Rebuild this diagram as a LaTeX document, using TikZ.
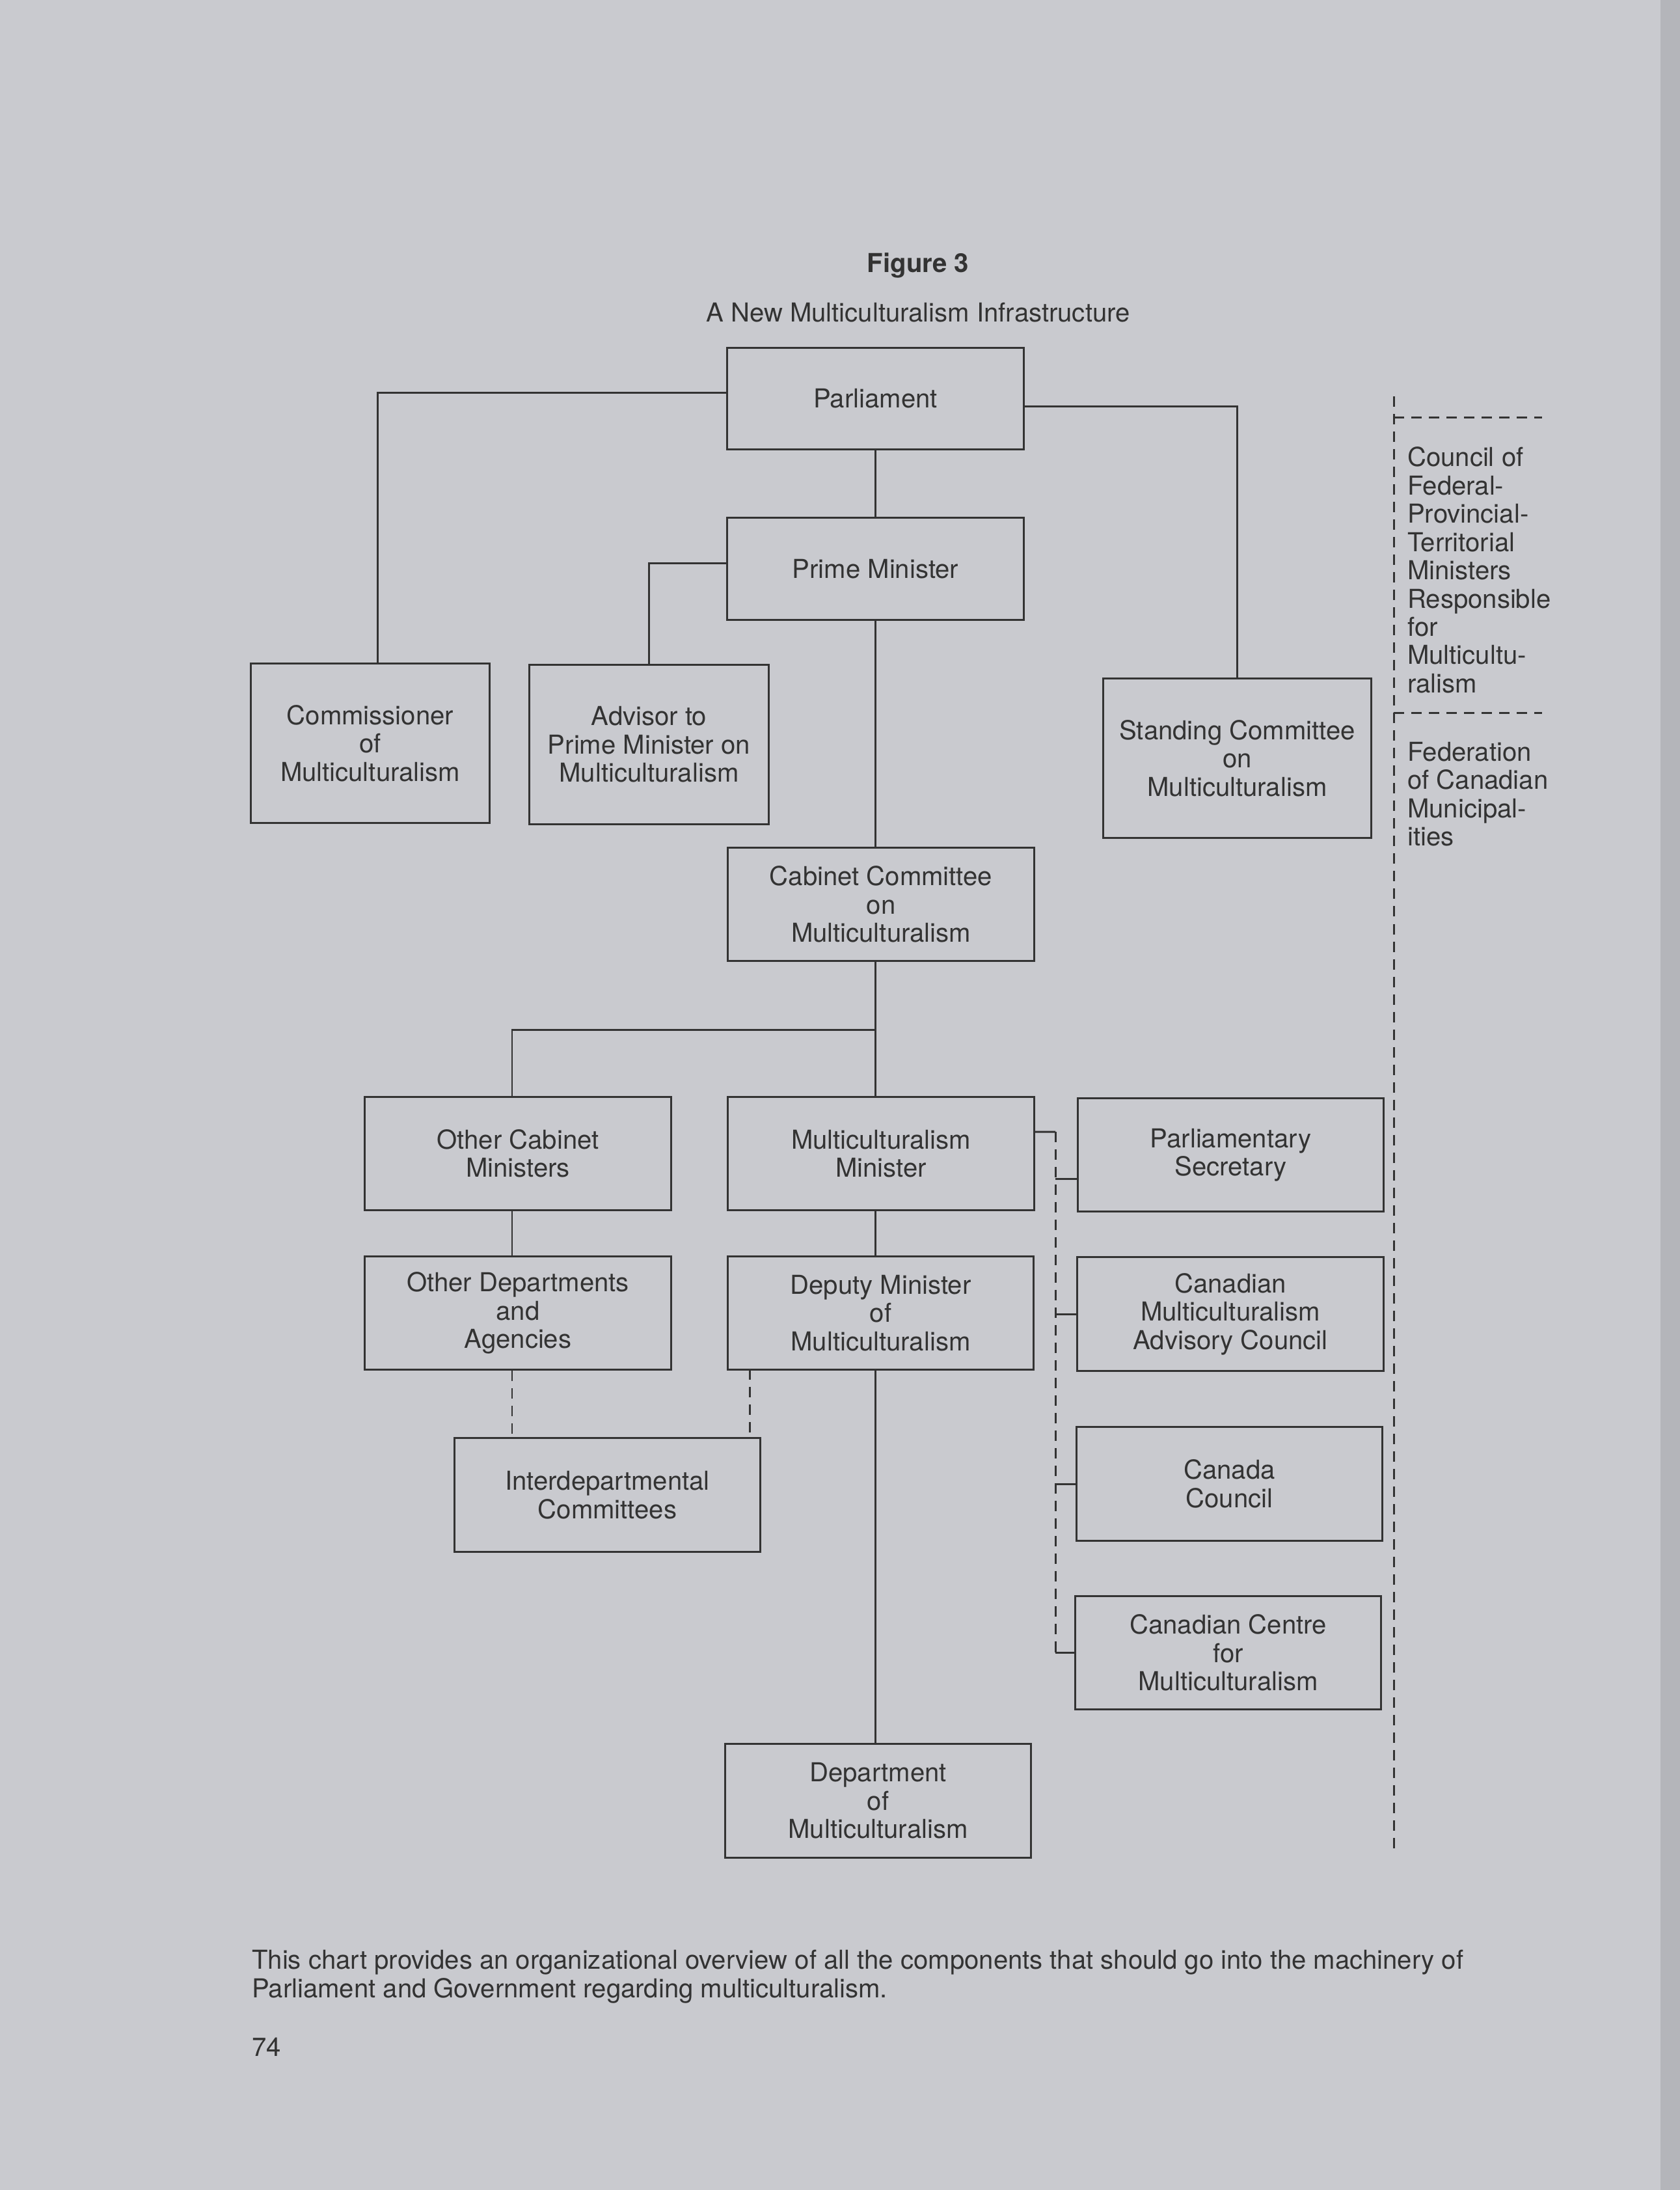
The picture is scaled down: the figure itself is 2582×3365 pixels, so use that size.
\documentclass[tikz,border=0pt]{standalone}
\usepackage{fontspec}
\setmainfont{TeX Gyre Heros}
\usepackage{tikz}
\definecolor{paper}{HTML}{C9CACF}
\definecolor{edge}{HTML}{B4B5BA}
\definecolor{ink}{HTML}{333333}

\begin{document}
\begin{tikzpicture}[x=0.01cm, y=-0.01cm, line width=0.85pt, color=ink,
  every node/.style={rectangle, draw, align=center, font=\fontsize{11.4}{12.35}\selectfont},
  office/.style={minimum width=4.7cm, minimum height=1.74cm},
  tall/.style={minimum height=2.44cm},
  link/.style={dash pattern=on 0.16cm off 0.11cm}]

\useasboundingbox (0,0) rectangle (2582,3365);
\fill[paper] (0,0) rectangle (2582,3365);
\fill[edge] (2552,0) rectangle (2582,3365);

\node[draw=none, font=\fontsize{11.4}{12.35}\selectfont\bfseries] (fig) at (1411,408) {Figure 3};
\node[draw=none] (sub) at (1411,480) {A New Multiculturalism Infrastructure};

\node[minimum width=4.55cm, minimum height=1.55cm] (parl) at (1345.5,612.5) {Parliament};
\node[minimum width=4.55cm, minimum height=1.56cm] (pm) at (1345.5,874) {Prime Minister};

\node[tall, minimum width=3.66cm] (comm) at (569,1142) {Commissioner\\of\\Multiculturalism};
\node[tall, minimum width=3.67cm] (adv) at (997.5,1144) {Advisor to\\Prime Minister on\\Multiculturalism};
\node[tall, minimum width=4.11cm] (stand) at (1901.5,1165) {Standing Committee\\on\\Multiculturalism};

\node[office] (cab) at (1354,1389.5) {Cabinet Committee\\on\\Multiculturalism};

\node[office] (ocm) at (796,1772.5) {Other Cabinet\\Ministers};
\node[office] (mm) at (1354,1772.5) {Multiculturalism\\Minister};
\node[office] (odep) at (796,2017.5) {Other Departments\\and\\Agencies};
\node[office] (dep) at (1353.5,2017.5) {Deputy Minister\\of\\Multiculturalism};
\node[office] (inter) at (933.5,2297) {Interdepartmental\\Committees};
\node[office] (dept) at (1349.5,2767) {Department\\of\\Multiculturalism};

\node[office] (ps) at (1891.5,1774.5) {Parliamentary\\Secretary};
\node[office] (cmac) at (1891,2019) {Canadian\\Multiculturalism\\Advisory Council};
\node[office] (cc) at (1889.5,2280) {Canada\\Council};
\node[office] (ccm) at (1887.5,2539.5) {Canadian Centre\\for\\Multiculturalism};

\coordinate (fork) at (1345.5,1582);
\coordinate (dtap) at (1152,2104);
\coordinate (bus) at (1622,1739);
\coordinate (pstap) at (1622,1811);
\coordinate (busend) at (1622,2539.5);

\draw (parl) -- (pm);
\draw ([yshift=0.095cm]parl.west) -| ([xshift=0.11cm]comm.north);
\draw ([yshift=-0.115cm]parl.east) -| (stand.north);
\draw ([yshift=0.09cm]pm.west) -| (adv.north);
\draw (pm.south) -- (pm.south |- cab.north);
\draw (pm.south |- cab.south) -- (pm.south |- mm.north);
\draw (fork) -| ([xshift=-0.09cm]ocm.north);
\draw ([xshift=-0.09cm]ocm.south) -- ([xshift=-0.09cm]odep.north);
\draw (pm.south |- mm.south) -- (pm.south |- dep.north);
\draw (pm.south |- dep.south) -- (pm.south |- dept.north);

\draw[link] ([xshift=-0.09cm]odep.south) -- ([xshift=-0.09cm]inter.north -| odep.south);
\draw[link] (dtap) -- (dtap |- inter.north);

\draw ([yshift=0.335cm]mm.east) -- (bus);
\draw[link] (bus) -- (busend);
\draw (pstap) -- (pstap -| ps.west);
\draw (cmac.west) -- (cmac.west -| bus);
\draw (cc.west) -- (cc.west -| bus);
\draw (ccm.west) -- (busend);

\coordinate (rtop) at (2142,609);
\coordinate (rbot) at (2142,2851);
\coordinate (r1) at (2142,641);
\coordinate (r2) at (2142,1095);
\draw[link] (rtop) -- (rbot);
\draw[link] (r1) -- ++(2.28cm,0);
\draw[link] (r2) -- ++(2.28cm,0);

\node[draw=none, align=left, anchor=west] (council) at (2150,876) {Council of\\Federal-\\Provincial-\\Territorial\\Ministers\\Responsible\\for\\Multicultu-\\ralism};
\node[draw=none, align=left, anchor=west] (fcm) at (2150,1220) {Federation\\of Canadian\\Municipal-\\ities};

\node[draw=none, align=left, anchor=west] (note) at (374,3037) {This chart provides an organizational overview of all the components that should go into the machinery of\\Parliament and Government regarding multiculturalism.};
\node[draw=none, anchor=west] (page) at (374,3145) {74};

\end{tikzpicture}
\end{document}
